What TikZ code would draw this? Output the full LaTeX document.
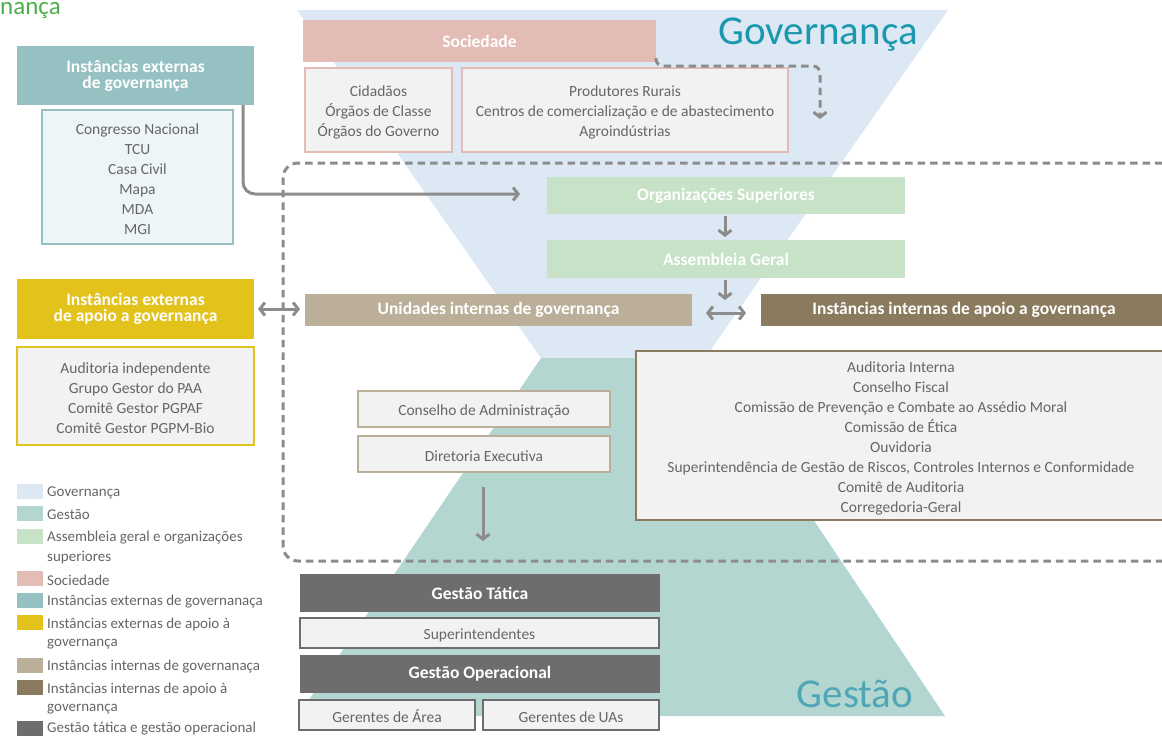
\documentclass[tikz,border=0pt]{standalone}
\usepackage{fontspec}
\setmainfont{Carlito}
\usetikzlibrary{arrows.meta}
\definecolor{cGov}{HTML}{DCE8F3}
\definecolor{cGes}{HTML}{B3D7D0}
\definecolor{cAss}{HTML}{C7E2C6}
\definecolor{cSoc}{HTML}{E3BDB5}
\definecolor{cExtGov}{HTML}{96C1C2}
\definecolor{cExtApo}{HTML}{E2C21B}
\definecolor{cIntGov}{HTML}{BBAF99}
\definecolor{cIntApo}{HTML}{8A7A5E}
\definecolor{cTat}{HTML}{6E6C6D}
\definecolor{cTxt}{HTML}{666666}
\definecolor{cBox}{HTML}{F3F2F3}
\definecolor{cBoxBlue}{HTML}{EEF5F8}
\definecolor{cLine}{HTML}{8C8C8C}
\definecolor{cTitle}{HTML}{1A98AF}
\definecolor{cTitleG}{HTML}{4FA6B6}
\definecolor{cGreenTitle}{HTML}{4DAF4A}
\begin{document}
\begin{tikzpicture}[x=1pt,y=-1pt,
  hdr/.style={rectangle, inner sep=0pt, outer sep=0pt, text=white, font=\fontsize{17.5}{16}\selectfont\bfseries, align=center},
  lst/.style={rectangle, inner sep=0pt, outer sep=0pt, line width=2pt, fill=cBox, text=cTxt, font=\fontsize{15.5}{20}\selectfont, align=center, execute at begin node={\rule{0pt}{16pt}}},
  lstm/.style={rectangle, inner sep=0pt, outer sep=0pt, line width=2pt, fill=cBox},
  lsttext/.style={inner sep=0pt, text=cTxt, font=\fontsize{15.5}{20}\selectfont, align=center, yshift=-2.5pt},
  conn/.style={draw=cLine, line width=3pt, -{Straight Barb[length=5pt,width=13pt]}},
  dconn/.style={draw=cLine, line width=3pt, {Straight Barb[length=5pt,width=13pt]}-{Straight Barb[length=5pt,width=13pt]}},
  dline/.style={draw=cLine, line width=3pt, dash pattern=on 7.5pt off 5pt},
  sq/.style={rectangle, inner sep=0pt, minimum width=26pt, minimum height=15pt},
  leg/.style={anchor=west, inner sep=0pt, text=cTxt, font=\fontsize{15}{20}\selectfont},
  big/.style={inner sep=0pt, font=\fontsize{41}{41}\selectfont}
]
\clip (0,0) rectangle (1162,736);
\fill[white] (0,0) rectangle (1162,736);

% hourglass background
\fill[cGov] (297,10) -- (948,10) -- (705,358) -- (541,358) -- cycle;
\fill[cGes] (541,358) -- (705,358) -- (945,716) -- (298,716) -- cycle;

% clipped title
\node[anchor=base east, inner sep=0pt, text=cGreenTitle, font=\fontsize{25}{25}\selectfont] (ttl) at (61,14) {Governança};

% big labels
\node[big, text=cTitle] (tgov) at (818,35) {Governança};
\node[big, text=cTitleG] (tges) at (855,694) {Gestão};

% dashed frame
\draw[dline, rounded corners=15] (1175,163) -- (283,163) -- (283,561) -- (1175,561);

% left column
\node[hdr, fill=cExtGov, minimum width=237pt, minimum height=59pt] (extgov) at (135.5,75.5) {Instâncias externas\\de governança};
\node[lstm, draw=cExtGov, fill=cBoxBlue, minimum width=191pt, minimum height=134pt,
  label={[lsttext]center:{Congresso Nacional\\TCU\\Casa Civil\\Mapa\\MDA\\MGI}}] (extgovl) at (137.5,177) {};
\node[hdr, fill=cExtApo, minimum width=237pt, minimum height=60pt] (ieag) at (135.5,309) {Instâncias externas\\de apoio a governança};
\node[lstm, draw=cExtApo, minimum width=237pt, minimum height=98pt,
  label={[lsttext]center:{Auditoria independente\\Grupo Gestor do PAA\\Comitê Gestor PGPAF\\Comitê Gestor PGPM-Bio}}] (ieagl) at (135.5,396) {};

% society
\node[hdr, fill=cSoc, minimum width=353pt, minimum height=42pt] (soc) at (479.5,41) {Sociedade};
\node[lstm, draw=cSoc, minimum width=147pt, minimum height=84pt,
  label={[lsttext]center:{Cidadãos\\Órgãos de Classe\\Órgãos do Governo}}] (cid) at (378.5,110) {};
\node[lstm, draw=cSoc, minimum width=326pt, minimum height=84pt,
  label={[lsttext]center:{Produtores Rurais\\Centros de comercialização e de abastecimento\\Agroindústrias}}] (prod) at (625,110) {};

% governance
\node[hdr, fill=cAss, minimum width=358pt, minimum height=37pt] (orgsup) at (726,195.5) {Organizações Superiores};
\node[hdr, fill=cAss, minimum width=358pt, minimum height=38pt] (ag) at (726,259) {Assembleia Geral};
\node[hdr, fill=cIntGov, minimum width=387pt, minimum height=32pt] (uig) at (498.5,310) {Unidades internas de governança};
\node[hdr, fill=cIntApo, minimum width=406pt, minimum height=32pt] (iiag) at (964,310) {Instâncias internas de apoio a governança};
\node[lst, draw=cIntGov, minimum width=252pt, minimum height=36pt] (cons) at (484,409) {Conselho de Administração};
\node[lst, draw=cIntGov, minimum width=252pt, minimum height=36pt] (dir) at (484,454) {Diretoria Executiva};
\node[lstm, draw=cIntApo, minimum width=530pt, minimum height=169pt,
  label={[lsttext]center:{Auditoria Interna\\Conselho Fiscal\\Comissão de Prevenção e Combate ao Assédio Moral\\Comissão de Ética\\Ouvidoria\\Superintendência de Gestão de Riscos, Controles Internos e Conformidade\\Comitê de Auditoria\\Corregedoria-Geral}}] (iial) at (901,435.5) {};

% management
\node[hdr, fill=cTat, minimum width=360pt, minimum height=38pt] (gt) at (480,593) {Gestão Tática};
\node[lst, draw=cTat, minimum width=359pt, minimum height=30pt] (sup) at (479.5,633) {Superintendentes};
\node[hdr, fill=cTat, minimum width=360pt, minimum height=38pt] (go) at (480,674) {Gestão Operacional};
\node[lst, draw=cTat, minimum width=176pt, minimum height=30pt] (ga) at (387,715) {Gerentes de Área};
\node[lst, draw=cTat, minimum width=176pt, minimum height=30pt] (gu) at (571,715) {Gerentes de UAs};

% connectors
\coordinate (e1) at (520,194);
\coordinate (socend) at (820,119);
\coordinate (agend) at (725,300);
\coordinate (dirend) at (483,541);
\draw[conn, rounded corners=12] ([xshift=107.5pt]extgov.south) |- (e1);
\draw[dline, rounded corners=7, -{Straight Barb[length=5pt,width=13pt]}] ([yshift=4pt]soc.south east) |- ++(164,8) -- (socend);
\draw[conn] ([xshift=-1pt,yshift=-2pt]orgsup.south) -- ([xshift=-1pt,yshift=3pt]ag.north);
\draw[conn] ([xshift=-1pt,yshift=-2pt]ag.south) -- (agend);
\draw[dconn] ([xshift=14pt,yshift=-3pt]uig.east) -- ([xshift=-15pt,yshift=-3pt]iiag.west);
\draw[dconn] ([xshift=4pt]ieag.east) -- ([xshift=-5pt]ieag.east -| uig.west);
\draw[conn] ([xshift=-1pt,yshift=-15pt]dir.south) -- (dirend);

% legend
\node[sq, fill=cGov] (s1) at (30,491.5) {};
\node[leg] (t1) at (47,493) {Governança};
\node[sq, fill=cGes] (s2) at (30,513.5) {};
\node[leg] (t2) at (47,515) {Gestão};
\node[sq, fill=cAss] (s3) at (30,536.5) {};
\node[leg] (t3) at (47,538) {Assembleia geral e organizações};
\node[leg] (t3b) at (47,558) {superiores};
\node[sq, fill=cSoc] (s4) at (30,578.5) {};
\node[leg] (t4) at (47,580) {Sociedade};
\node[sq, fill=cExtGov] (s5) at (30,600.5) {};
\node[leg] (t5) at (47,602) {Instâncias externas de governanaça};
\node[sq, fill=cExtApo] (s6) at (30,622.5) {};
\node[leg] (t6) at (47,624) {Instâncias externas de apoio à};
\node[leg] (t6b) at (47,644) {governança};
\node[sq, fill=cIntGov] (s7) at (30,665.5) {};
\node[leg] (t7) at (47,667) {Instâncias internas de governanaça};
\node[sq, fill=cIntApo] (s8) at (30,687.5) {};
\node[leg] (t8) at (47,689) {Instâncias internas de apoio à};
\node[leg] (t8b) at (47,709) {governança};
\node[sq, fill=cTat] (s9) at (30,728.5) {};
\node[leg] (t9) at (47,728.5) {Gestão tática e gestão operacional};
\end{tikzpicture}
\end{document}
